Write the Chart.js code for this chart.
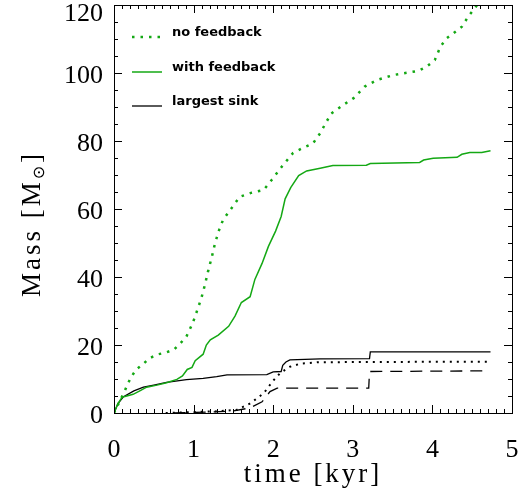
<!DOCTYPE html>
<html>
<head>
<meta charset="utf-8">
<script src="https://cdn.jsdelivr.net/npm/chart.js@4"></script>
<style>
  html, body { margin: 0; padding: 0; background: #fff; }
  #wrap { width: 529px; height: 495px; position: relative; }
</style>
</head>
<body>
<div id="wrap"><canvas id="massChart"></canvas></div>
<script>
// time in kyr, mass in solar masses
const noFbTime = [0, 0.075, 0.14, 0.21, 0.28, 0.37, 0.44, 0.54, 0.64, 0.75, 0.83, 0.91, 0.99, 1.05, 1.10, 1.14, 1.18, 1.23, 1.27, 1.32, 1.37, 1.46, 1.58, 1.73, 1.88, 1.98, 2.11, 2.25, 2.36, 2.50, 2.59, 2.67, 2.73, 2.88, 3.01, 3.15, 3.30, 3.51, 3.68, 3.82, 3.93, 4.03, 4.10, 4.18, 4.26, 4.37, 4.45, 4.54, 4.62];
const noFbMass = [0, 3.6, 6.8, 10.4, 12.8, 14.5, 16, 17.2, 17.7, 18.6, 20.4, 22.5, 26.5, 30.5, 34, 37.5, 41.5, 46, 50, 53.8, 56.8, 59.7, 63.6, 64.8, 65.6, 68.5, 72.5, 76.5, 77.8, 79.3, 82.3, 85.7, 88.1, 90.6, 92.6, 96, 97.9, 99.4, 100.1, 100.6, 101.9, 103.8, 107.7, 110.2, 111.6, 113.6, 116.6, 119.3, 122];

const fbTime = [0, 0.05, 0.1, 0.16, 0.24, 0.33, 0.41, 0.54, 0.66, 0.79, 0.86, 0.92, 0.98, 1.02, 1.12, 1.16, 1.21, 1.31, 1.44, 1.52, 1.60, 1.71, 1.77, 1.86, 1.94, 2.03, 2.10, 2.15, 2.22, 2.32, 2.42, 2.59, 2.75, 3.17, 3.22, 3.84, 3.89, 4.01, 4.31, 4.37, 4.47, 4.62, 4.73];
const fbMass = [0, 2.8, 4.6, 5, 5.5, 6.6, 7.6, 8.2, 8.9, 9.9, 10.9, 12.8, 13.4, 15.4, 17.3, 20, 21.5, 22.9, 25.5, 28.5, 32.5, 34.2, 39.3, 44, 49, 53.5, 57.8, 63, 66.3, 69.8, 71.2, 72, 72.8, 72.9, 73.4, 73.7, 74.4, 74.9, 75.2, 76.1, 76.6, 76.6, 77.1];

const sinkFbTime = [0, 0.05, 0.12, 0.25, 0.37, 0.5, 0.66, 0.91, 1.12, 1.29, 1.42, 1.92, 2.0, 2.1, 2.12, 2.16, 2.21, 2.59, 3.21, 3.22, 4.73];
const sinkFbMass = [0, 2.8, 4.8, 6.5, 7.6, 8.2, 9.0, 9.8, 10.2, 10.7, 11.2, 11.3, 12.1, 12.2, 14.0, 15.0, 15.6, 15.9, 16.0, 18.0, 18.0];

const sinkNoFbTime = [0.65, 1.0, 1.3, 1.54, 1.71, 1.88, 2.0, 2.09, 2.21, 2.34, 2.55, 3.09, 4.73];
const sinkNoFbMass = [0, 0.3, 0.5, 0.9, 2.8, 5.8, 9.5, 11.8, 13.6, 14.5, 14.9, 15.0, 15.1];

const sink2Time = [0.75, 1.2, 1.5, 1.71, 1.86, 1.96, 2.05, 3.20, 3.21, 4.70];
const sink2Mass = [0, 0.3, 0.6, 1.5, 3.3, 6.3, 7.3, 7.3, 12.2, 12.4];

const xTicks = [0, 1, 2, 3, 4, 5];
const yTicks = [0, 20, 40, 60, 80, 100, 120];

const legendLabels = ['no feedback', 'with feedback', 'largest sink'];

const GREEN = '#14a814';
const pts = (t, m) => t.map((v, i) => ({ x: v, y: m[i] }));

const canvas = document.getElementById('massChart');
const ctx = canvas.getContext('2d');

new Chart(ctx, {
    type: 'line',
    data: {
        datasets: [
            { label: 'no feedback', data: pts(noFbTime, noFbMass), borderColor: GREEN, borderWidth: 2.5, borderDash: [2.5, 6] },
            { label: 'with feedback', data: pts(fbTime, fbMass), borderColor: GREEN, borderWidth: 1.5 },
            { label: 'largest sink', data: pts(sinkFbTime, sinkFbMass), borderColor: '#000', borderWidth: 1.3 },
            { label: 'largest sink (no feedback)', data: pts(sinkNoFbTime, sinkNoFbMass), borderColor: '#000', borderWidth: 2, borderDash: [2, 5] },
            { label: 'sink dashed', data: pts(sink2Time, sink2Mass), borderColor: '#000', borderWidth: 1.3, borderDash: [12, 8] },
        ]
    },
    options: {
        responsive: true,
        maintainAspectRatio: false,
        animation: false,
        layout: { padding: { top: 5, right: 17, left: 0, bottom: 0 } },
        elements: { point: { radius: 0 }, line: { tension: 0 } },
        scales: {
            x: {
                type: 'linear', min: 0, max: 5,
                afterBuildTicks: (s) => { s.ticks = xTicks.map(v => ({ value: v })); },
                afterFit: (s) => { s.height = 82; s.paddingLeft = 0; s.paddingRight = 0; },
                grid: { display: false, drawTicks: false },
                border: { display: false },
                ticks: { color: '#000', padding: 22, font: { family: 'Liberation Serif', size: 26 } },
            },
            y: {
                min: 0, max: 120,
                afterBuildTicks: (s) => { s.ticks = yTicks.map(v => ({ value: v })); },
                afterFit: (s) => { s.width = 114; s.paddingTop = 0; s.paddingBottom = 0; },
                grid: { display: false, drawTicks: false },
                border: { display: false },
                ticks: { display: false },
            }
        },
        plugins: {
            legend: { display: false },
            tooltip: { enabled: false },
        }
    },
    plugins: [
        {
            id: 'frameTicks',
            afterDatasetsDraw: (chart) => {
                const c = chart.ctx;
                const a = chart.chartArea;
                const xs = chart.scales.x, ys = chart.scales.y;
                c.save();
                c.strokeStyle = '#000';
                c.lineWidth = 1;
                c.strokeRect(a.left + 0.5, a.top + 0.5, a.right - a.left, a.bottom - a.top);
                c.beginPath();
                for (let i = 0; i <= 50; i++) {
                    const x = Math.round(xs.getPixelForValue(i / 10)) + 0.5;
                    const len = i % 10 === 0 ? 8 : 4;
                    c.moveTo(x, a.bottom); c.lineTo(x, a.bottom - len);
                    c.moveTo(x, a.top); c.lineTo(x, a.top + len);
                }
                for (let v = 0; v <= 120; v += 5) {
                    const y = Math.round(ys.getPixelForValue(v)) + 0.5;
                    const len = v % 20 === 0 ? 8 : 4;
                    c.moveTo(a.left, y); c.lineTo(a.left + len, y);
                    c.moveTo(a.right, y); c.lineTo(a.right - len, y);
                }
                c.stroke();

                // y tick labels, a little below the tick like the original
                c.fillStyle = '#000';
                c.font = '26px "Liberation Serif"';
                c.textAlign = 'right';
                c.textBaseline = 'middle';
                yTicks.forEach(v => {
                    const y = Math.max(ys.getPixelForValue(v) + 3, 14);
                    c.fillText(String(v), a.left - 11, y);
                });

                // legend
                const rows = [
                    { y: 37, color: GREEN, dash: [2.5, 6], w: 2.5 },
                    { y: 72, color: GREEN, dash: [], w: 1.5 },
                    { y: 106, color: '#000', dash: [], w: 1.3 },
                ];
                c.font = 'bold 13px "DejaVu Sans"';
                c.textBaseline = 'middle';
                c.textAlign = 'left';
                rows.forEach((r, i) => {
                    c.beginPath();
                    c.setLineDash(r.dash);
                    c.strokeStyle = r.color;
                    c.lineWidth = r.w;
                    c.moveTo(132, r.y); c.lineTo(162, r.y);
                    c.stroke();
                    c.setLineDash([]);
                    c.fillStyle = '#000';
                    c.fillText(legendLabels[i], 172, r.y - 4);
                });

                // axis titles
                c.fillStyle = '#000';
                c.letterSpacing = '3px';
                c.font = '27px "Liberation Serif"';
                c.textAlign = 'center';
                c.textBaseline = 'alphabetic';
                c.fillText('time [kyr]', 313, 482);

                c.translate(40, 224);
                c.rotate(-Math.PI / 2);
                const p1 = 'Mass [M', p2 = '\u2299', p3 = ']';
                c.font = '27px "Liberation Serif"';
                const w1 = c.measureText(p1).width, w3 = c.measureText(p3).width;
                c.font = '16px "DejaVu Sans"';
                const w2 = c.measureText(p2).width;
                let x0 = -(w1 + w2 + w3) / 2;
                c.textAlign = 'left';
                c.font = '27px "Liberation Serif"';
                c.fillText(p1, x0, 0);
                c.font = '16px "DejaVu Sans"';
                c.fillText(p2, x0 + w1, 4);
                c.font = '27px "Liberation Serif"';
                c.fillText(p3, x0 + w1 + w2, 0);
                c.restore();
            }
        }
    ]
});
</script>
</body>
</html>
